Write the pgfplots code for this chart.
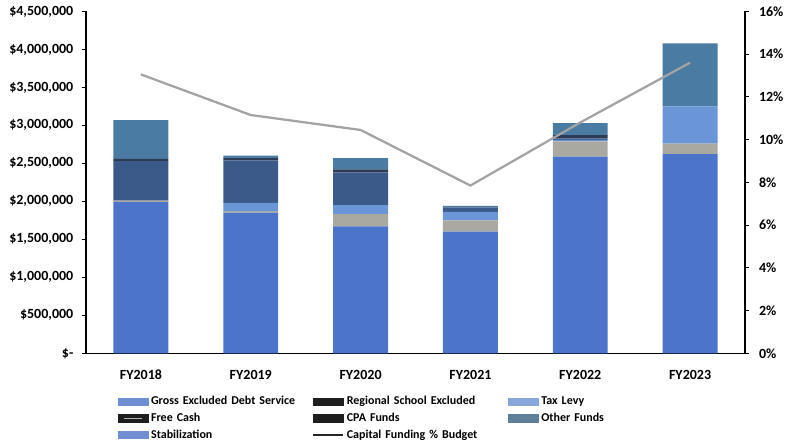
\documentclass[border=0pt]{standalone}
\usepackage{fontspec}
\setmainfont{Carlito}
\usepackage{pgfplots}
\pgfplotsset{compat=1.18}
\definecolor{cGross}{HTML}{4C74CB}
\definecolor{cRegional}{HTML}{A9A9A2}
\definecolor{cTax}{HTML}{6A95D6}
\definecolor{cFree}{HTML}{3B5A8A}
\definecolor{cCPA}{HTML}{2D3B55}
\definecolor{cOther}{HTML}{4A7BA2}
\definecolor{cStab}{HTML}{5B7FD0}
\definecolor{cLine}{HTML}{A3A3A3}
\definecolor{lgGross}{HTML}{6F8FD2}
\definecolor{lgDark}{HTML}{1E1E1E}
\definecolor{lgTax}{HTML}{86A6DC}
\definecolor{lgOther}{HTML}{5F7F99}

\pgfplotstableread{
x gross regional tax free cpa other stab
0 1990000 20000 0 520000 30000 510000 0
1 1850000 20000 110000 560000 30000 30000 0
2 1670000 160000 120000 430000 40000 150000 0
3 1600000 150000 110000 60000 0 20000 0
4 2590000 200000 20000 20000 40000 160000 0
5 2620000 140000 490000 0 0 830000 0
}\bars

\pgfplotstableread{
x pct
0 13.05
1 11.15
2 10.45
3 7.85
4 10.8
5 13.6
}\pct

\begin{document}
\begin{tikzpicture}
\path[use as bounding box] (-64.5pt,-65.8pt) rectangle (524.25pt,264.95pt);
\begin{axis}[
  at={(0pt,0pt)}, anchor=south west,
  scale only axis, width=494.25pt, height=256.4pt,
  ybar stacked, bar width=0.5,
  xmin=-0.5, xmax=5.5, ymin=0, ymax=4500000,
  xtick={0,1,2,3,4,5},
  xticklabels={FY2018,FY2019,FY2020,FY2021,FY2022,FY2023},
  ytick={0,500000,1000000,1500000,2000000,2500000,3000000,3500000,4000000,4500000},
  yticklabels={{\$-},{\$500,000},{\$1,000,000},{\$1,500,000},{\$2,000,000},{\$2,500,000},{\$3,000,000},{\$3,500,000},{\$4,000,000},{\$4,500,000}},
  axis x line*=bottom, axis y line*=left,
  axis line style={black, line width=0.9pt},
  x axis line style={-},
  y axis line style={-},
  xtick style={draw=none},
  ytick style={black, line width=0.6pt},
  tick align=outside, major tick length=3pt,
  tick label style={font=\bfseries\fontsize{10.5}{12}\selectfont},
  xticklabel style={yshift=-6pt},
  yticklabel style={xshift=-3pt},
  scaled y ticks=false,
  legend columns=3,
  legend cell align=left,
  legend style={at={(axis description cs:0.048,-0.122)}, anchor=north west,
    draw=none, fill=none, inner sep=0pt,
    font=\bfseries\fontsize{9}{10}\selectfont,
    row sep=2.6pt,
    nodes={inner sep=1pt, text width=120pt, align=left},
    /tikz/every odd column/.append style={column sep=1pt},
  },
]
\addplot[fill=cGross, draw=none, forget plot] table[x=x, y=gross] {\bars};
\addplot[fill=cRegional, draw=none, forget plot] table[x=x, y=regional] {\bars};
\addplot[fill=cTax, draw=none, forget plot] table[x=x, y=tax] {\bars};
\addplot[fill=cFree, draw=none, forget plot] table[x=x, y=free] {\bars};
\addplot[fill=cCPA, draw=none, forget plot] table[x=x, y=cpa] {\bars};
\addplot[fill=cOther, draw=none, forget plot] table[x=x, y=other] {\bars};
\addplot[fill=cStab, draw=none, forget plot] table[x=x, y=stab] {\bars};
\addlegendimage{legend image code/.code={\fill[lgGross] (0pt,-2.8pt) rectangle (22.5pt,2.8pt);}}
\addlegendentry{Gross Excluded Debt Service}
\addlegendimage{legend image code/.code={\fill[lgDark] (0pt,-2.8pt) rectangle (22.5pt,2.8pt);}}
\addlegendentry{Regional School Excluded}
\addlegendimage{legend image code/.code={\fill[lgTax] (0pt,-2.8pt) rectangle (22.5pt,2.8pt);}}
\addlegendentry{Tax Levy}
\addlegendimage{legend image code/.code={\fill[lgDark] (0pt,-2.8pt) rectangle (22.5pt,2.8pt); \draw[gray!60, line width=0.6pt] (4pt,0.3pt) -- (18pt,0.3pt);}}
\addlegendentry{Free Cash}
\addlegendimage{legend image code/.code={\fill[lgDark] (0pt,-2.8pt) rectangle (22.5pt,2.8pt);}}
\addlegendentry{CPA Funds}
\addlegendimage{legend image code/.code={\fill[lgOther] (0pt,-2.8pt) rectangle (22.5pt,2.8pt);}}
\addlegendentry{Other Funds}
\addlegendimage{legend image code/.code={\fill[lgGross] (0pt,-2.8pt) rectangle (22.5pt,2.8pt);}}
\addlegendentry{Stabilization}
\addlegendimage{legend image code/.code={\draw[black!85, line width=1.3pt] (0pt,0pt) -- (22.5pt,0pt);}}
\addlegendentry{Capital Funding \% Budget}
\end{axis}
\begin{axis}[
  at={(0pt,0pt)}, anchor=south west,
  scale only axis, width=494.25pt, height=256.4pt,
  xmin=-0.5, xmax=5.5, ymin=0, ymax=16,
  axis x line=none, axis y line*=right,
  axis line style={black, line width=0.9pt},
  y axis line style={-},
  ytick={0,2,4,6,8,10,12,14,16},
  yticklabels={0\%,2\%,4\%,6\%,8\%,10\%,12\%,14\%,16\%},
  ytick style={black, line width=0.6pt},
  tick align=outside, major tick length=3pt,
  tick label style={font=\bfseries\fontsize{10.5}{12}\selectfont},
  yticklabel style={xshift=4pt},
]
\addplot[color=cLine, line width=1.7pt, mark=none] table[x=x, y=pct] {\pct};
\end{axis}
\end{tikzpicture}
\end{document}
